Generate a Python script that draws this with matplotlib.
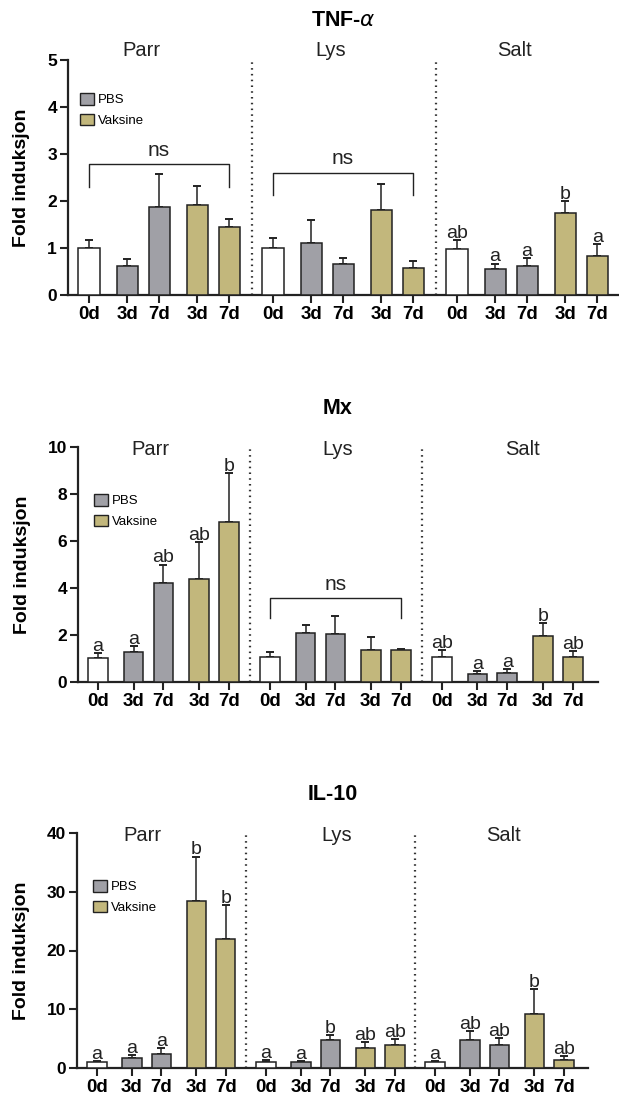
import matplotlib
matplotlib.use("Agg")
import matplotlib.pyplot as plt
from matplotlib.patches import Patch

plt.rcParams['font.family'] = ['Liberation Sans', 'DejaVu Sans']
plt.rcParams['mathtext.fontset'] = 'dejavusans'

W, H = 619, 1099

# x tick labels and bar colours (same layout in every panel)
days = ["0d", "3d", "7d", "3d", "7d"]
kinds = ["ctrl", "pbs", "pbs", "vak", "vak"]
groups = ["Parr", "Lys", "Salt"]
COLORS = {"ctrl": "white", "pbs": "#a0a0a6", "vak": "#c2b77c"}

offsets = [0, 1.19, 2.19, 3.38, 4.38]
GROUP_STEP = 5.75

# TNF-alpha
tnf_mean = [1.0, 0.62, 1.88, 1.91, 1.44,
            1.0, 1.10, 0.66, 1.81, 0.58,
            0.98, 0.55, 0.62, 1.74, 0.84]
tnf_top = [1.17, 0.76, 2.57, 2.32, 1.62,
           1.21, 1.60, 0.79, 2.36, 0.72,
           1.16, 0.67, 0.79, 1.99, 1.08]
tnf_letters = ["", "", "", "", "",
               "", "", "", "", "",
               "ab", "a", "a", "b", "a"]

# Mx
mx_mean = [1.02, 1.27, 4.2, 4.38, 6.82,
           1.05, 2.07, 2.04, 1.36, 1.36,
           1.06, 0.34, 0.40, 1.97, 1.08]
mx_top = [1.25, 1.52, 5.0, 5.94, 8.9,
          1.27, 2.43, 2.82, 1.93, 1.40,
          1.37, 0.47, 0.54, 2.50, 1.32]
mx_letters = ["a", "a", "ab", "ab", "b",
              "", "", "", "", "",
              "ab", "a", "a", "b", "ab"]

# IL-10
il_mean = [0.97, 1.64, 2.38, 28.5, 22.0,
           1.0, 1.0, 4.75, 3.34, 3.9,
           0.97, 4.75, 3.9, 9.11, 1.36]
il_top = [1.24, 2.2, 3.34, 36.0, 27.7,
          1.3, 1.2, 5.6, 4.36, 4.87,
          1.19, 6.33, 5.04, 13.5, 2.09]
il_letters = ["a", "a", "a", "b", "b",
              "a", "a", "b", "ab", "ab",
              "a", "ab", "ab", "b", "ab"]

# ns brackets: (first bar, last bar, bracket y, leg bottom y)
tnf_brackets = [(0, 4, 2.79, 2.30), (5, 9, 2.60, 2.13)]
mx_brackets = [(5, 9, 3.57, 2.72)]
il_brackets = []

panels = [
    dict(title="TNF-$\\alpha$", mean=tnf_mean, top=tnf_top, letters=tnf_letters,
         brackets=tnf_brackets, ymax=5, yticks=[0, 1, 2, 3, 4, 5],
         left=68, first=89, unit=32.0, right=619, bottom=295,
         lab_x=[1.65, 7.55, 13.3], lab_y=1.04, leg=(0.022, 0.86)),
    dict(title="Mx", mean=mx_mean, top=mx_top, letters=mx_letters,
         brackets=mx_brackets, ymax=10, yticks=[0, 2, 4, 6, 8, 10],
         left=78, first=98, unit=29.9, right=598, bottom=682,
         lab_x=[1.74, 8.03, 14.2], lab_y=0.99, leg=(0.031, 0.80)),
    dict(title="IL-10", mean=il_mean, top=il_top, letters=il_letters,
         brackets=il_brackets, ymax=40, yticks=[0, 10, 20, 30, 40],
         left=77, first=97, unit=29.4, right=588, bottom=1068,
         lab_x=[1.56, 8.16, 13.84], lab_y=0.99, leg=(0.031, 0.80)),
]
AX_H = 235

fig = plt.figure(figsize=(W / 100, H / 100), dpi=100)

xpos = [g * GROUP_STEP + o for g in range(3) for o in offsets]
colors = [COLORS[k] for _ in groups for k in kinds]

for p in panels:
    width_px = p["right"] - p["left"]
    ax = fig.add_axes([p["left"] / W, (H - p["bottom"]) / H, width_px / W, AX_H / H])
    ax.set_xlim((p["left"] - p["first"]) / p["unit"], (p["right"] - p["first"]) / p["unit"])
    ax.set_ylim(0, p["ymax"])

    ax.bar(xpos, p["mean"], width=0.66, color=colors, edgecolor="#222222",
           linewidth=1.1, zorder=3)
    err = [t - m for m, t in zip(p["mean"], p["top"])]
    ax.errorbar(xpos, p["mean"], yerr=[[0] * len(err), err], fmt="none",
                ecolor="#222222", elinewidth=1.1, capsize=3, capthick=1.4, zorder=2)

    for x, t, lab in zip(xpos, p["top"], p["letters"]):
        if lab:
            ax.annotate(lab, (x, t), xytext=(0, 1.5), textcoords="offset points",
                        ha="center", va="baseline", fontsize=14, color="#222222")

    for i0, i1, yh, yl in p["brackets"]:
        ax.plot([xpos[i0], xpos[i0], xpos[i1], xpos[i1]], [yl, yh, yh, yl],
                color="#222222", lw=1.0, zorder=4)
        ax.annotate("ns", ((xpos[i0] + xpos[i1]) / 2, yh), xytext=(0, 6),
                    textcoords="offset points", ha="center", va="baseline",
                    fontsize=15, color="#222222")

    for g in range(1, 3):
        ax.axvline(g * GROUP_STEP - 0.67, color="#333333", lw=1.6,
                   linestyle=(0, (0.7, 1.9)), zorder=1)

    for gx, gname in zip(p["lab_x"], groups):
        ax.text(gx, p["lab_y"], gname, transform=ax.get_xaxis_transform(),
                ha="center", va="center", fontsize=14.5, color="#222222")

    ax.text(0.5, 1 + 39 / AX_H, p["title"], transform=ax.transAxes, ha="center",
            va="center", fontsize=15.5, fontweight="bold")
    ax.text((22 - p["left"]) / width_px, 0.5, "Fold induksjon", transform=ax.transAxes,
            rotation=90, ha="center", va="center", fontsize=14, fontweight="bold")

    ax.set_xticks(xpos)
    ax.set_xticklabels(days * 3, fontsize=13.5, fontweight="bold")
    ax.set_yticks(p["yticks"])
    ax.set_yticklabels([str(v) for v in p["yticks"]], fontsize=12.5, fontweight="bold")
    ax.tick_params(axis="both", direction="out", length=6, width=1.5, pad=2,
                   color="#222222")
    for s in ["top", "right"]:
        ax.spines[s].set_visible(False)
    for s in ["left", "bottom"]:
        ax.spines[s].set_linewidth(1.6)
        ax.spines[s].set_color("#222222")

    handles = [Patch(facecolor=COLORS["pbs"], edgecolor="#222222", linewidth=1.0),
               Patch(facecolor=COLORS["vak"], edgecolor="#222222", linewidth=1.0)]
    ax.legend(handles, ["PBS", "Vaksine"], loc="upper left", bbox_to_anchor=p["leg"],
              frameon=False, fontsize=9.5, handlelength=1.05, handleheight=1.0,
              handletextpad=0.3, labelspacing=0.55, borderpad=0, borderaxespad=0)

fig.savefig("out.png", dpi=100)
